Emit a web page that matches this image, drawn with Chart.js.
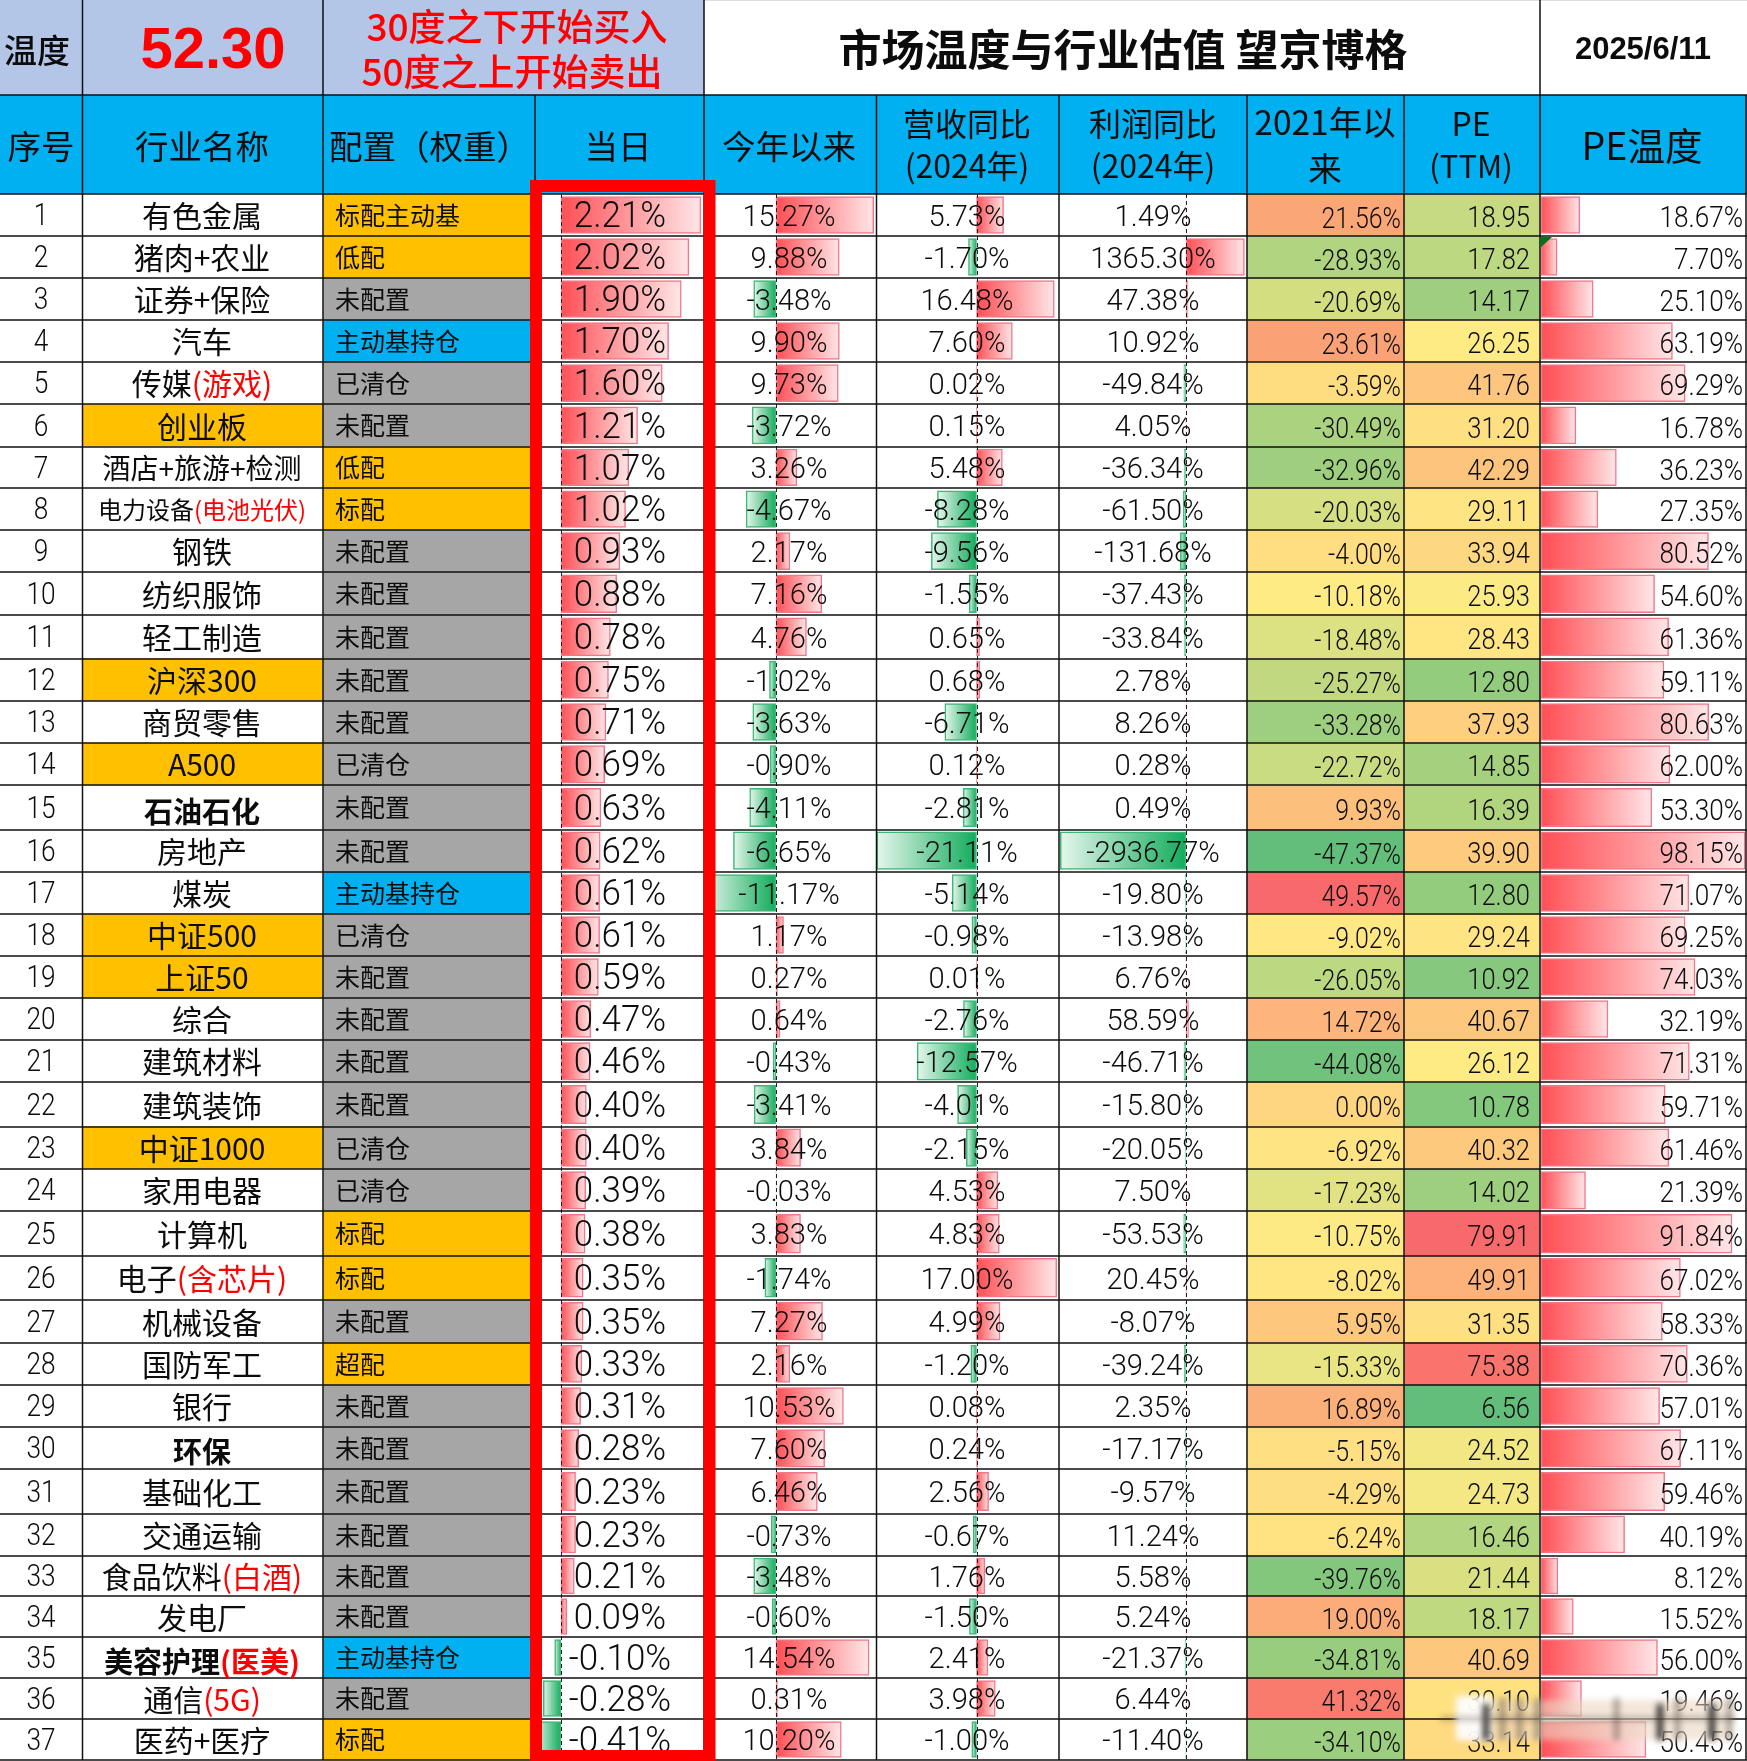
<!DOCTYPE html>
<html>
<head>
<meta charset="utf-8">
<title>市场温度与行业估值</title>
<script src="https://cdn.jsdelivr.net/npm/chart.js@4"></script>
<style>
  html, body { margin: 0; padding: 0; background: #fff; }
  canvas { display: block; }
</style>
</head>
<body>
<canvas id="myChart" width="1747" height="1761"></canvas>
<script>
// datos
var industries = ["有色金属","猪肉+农业","证券+保险","汽车","传媒","创业板","酒店+旅游+检测","电力设备","钢铁","纺织服饰","轻工制造","沪深300","商贸零售","A500","石油石化","房地产","煤炭","中证500","上证50","综合","建筑材料","建筑装饰","中证1000","家用电器","计算机","电子","机械设备","国防军工","银行","环保","基础化工","交通运输","食品饮料","发电厂","美容护理","通信","医药+医疗"];
var industryNotes = ["","","","","(游戏)","","","(电池光伏)","","","","","","","","","","","","","","","","","","(含芯片)","","","","","","","(白酒)","","(医美)","(5G)",""];
var indexRows = ["创业板","沪深300","A500","中证500","上证50","中证1000"];
var boldRows = ["石油石化","环保","美容护理"];
var allocation = ["标配主动基","低配","未配置","主动基持仓","已清仓","未配置","低配","标配","未配置","未配置","未配置","未配置","未配置","已清仓","未配置","未配置","主动基持仓","已清仓","未配置","未配置","未配置","未配置","已清仓","已清仓","标配","标配","未配置","超配","未配置","未配置","未配置","未配置","未配置","未配置","主动基持仓","未配置","标配"];
var dayChange = [2.21,2.02,1.90,1.70,1.60,1.21,1.07,1.02,0.93,0.88,0.78,0.75,0.71,0.69,0.63,0.62,0.61,0.61,0.59,0.47,0.46,0.40,0.40,0.39,0.38,0.35,0.35,0.33,0.31,0.28,0.23,0.23,0.21,0.09,-0.10,-0.28,-0.41];
var ytdChange = [15.27,9.88,-3.48,9.90,9.73,-3.72,3.26,-4.67,2.17,7.16,4.76,-1.02,-3.63,-0.90,-4.11,-6.65,-11.17,1.17,0.27,0.64,-0.43,-3.41,3.84,-0.03,3.83,-1.74,7.27,2.16,10.53,7.60,6.46,-0.73,-3.48,-0.60,14.54,0.31,10.20];
var revenueYoy = [5.73,-1.70,16.48,7.60,0.02,0.15,5.48,-8.28,-9.56,-1.55,0.65,0.68,-6.71,0.12,-2.81,-21.11,-5.14,-0.98,0.01,-2.76,-12.57,-4.01,-2.15,4.53,4.83,17.00,4.99,-1.20,0.08,0.24,2.56,-0.67,1.76,-1.50,2.41,3.98,-1.00];
var profitYoy = [1.49,1365.30,47.38,10.92,-49.84,4.05,-36.34,-61.50,-131.68,-37.43,-33.84,2.78,8.26,0.28,0.49,-2936.77,-19.80,-13.98,6.76,58.59,-46.71,-15.80,-20.05,7.50,-53.53,20.45,-8.07,-39.24,2.35,-17.17,-9.57,11.24,5.58,5.24,-21.37,6.44,-11.40];
var since2021 = [21.56,-28.93,-20.69,23.61,-3.59,-30.49,-32.96,-20.03,-4.00,-10.18,-18.48,-25.27,-33.28,-22.72,9.93,-47.37,49.57,-9.02,-26.05,14.72,-44.08,0.00,-6.92,-17.23,-10.75,-8.02,5.95,-15.33,16.89,-5.15,-4.29,-6.24,-39.76,19.00,-34.81,41.32,-34.10];
var peTtm = [18.95,17.82,14.17,26.25,41.76,31.20,42.29,29.11,33.94,25.93,28.43,12.80,37.93,14.85,16.39,39.90,12.80,29.24,10.92,40.67,26.12,10.78,40.32,14.02,79.91,49.91,31.35,75.38,6.56,24.52,24.73,16.46,21.44,18.17,40.69,30.10,33.14];
var peTemp = [18.67,7.70,25.10,63.19,69.29,16.78,36.23,27.35,80.52,54.60,61.36,59.11,80.63,62.00,53.30,98.15,71.07,69.25,74.03,32.19,71.31,59.71,61.46,21.39,91.84,67.02,58.33,70.36,57.01,67.11,59.46,40.19,8.12,15.52,56.00,19.46,50.45];

// layout, en pixeles de la pagina
var W = 1747, H = 1761;
var rowEdges = [194,236,278,320,362,404,447,488,530,572,615,659,701,743,785,830,872,914,956,998,1040,1082,1127,1169,1211,1256,1300,1343,1385,1427,1469,1514,1556,1596,1637,1678,1719,1760];
var colEdges = [0,82.5,323,535,704,876.5,1059,1247,1404,1540,1746];
var fullHeightCols = [82.5,323,704,1540];
var rowMid = industries.map(function(n, i) { return (rowEdges[i] + rowEdges[i + 1]) / 2; });

var CJK = '"Noto Sans CJK SC"';
var NUM = 'Roboto, "Noto Sans"';
var RED = "#ff0000";
var INK = "#0c0c0c";

// eje x propio para cada columna: pos. del cero y pixeles por unidad
function columnScale(zeroPx, pxPerUnit) {
  return { type: "linear", axis: "x", display: false, stacked: false, min: -zeroPx / pxPerUnit, max: (W - zeroPx) / pxPerUnit };
}
var barColumns = [
  { id: "xDay", values: dayChange, zero: 561, k: 63.3 },
  { id: "xYtd", values: ytdChange, zero: 776, k: 6.4 },
  { id: "xRev", values: revenueYoy, zero: 976.5, k: 4.72 },
  { id: "xProfit", values: profitYoy, zero: 1186, k: 0.0428 },
  { id: "xTemp", values: peTemp, zero: 1541, k: 2.08 }
];

function barFill(scaleId) {
  return function(c) {
    if (!c.raw) return "#ff555a";
    var s = c.chart.scales[scaleId];
    var x0 = s.getPixelForValue(0), x1 = s.getPixelForValue(c.raw.x);
    // la primera pasada llega antes del layout
    if (!isFinite(x0) || !isFinite(x1)) return "#ff555a";
    var g = c.chart.ctx.createLinearGradient(x0, 0, x1, 0);
    g.addColorStop(0, c.raw.x < 0 ? "#12ac5c" : "#ff4f55");
    g.addColorStop(1, c.raw.x < 0 ? "#e6f6ec" : "#ffe6e7");
    return g;
  };
}
function barEdge(c) {
  if (!c.raw) return "#ff8a8e";
  return c.raw.x < 0 ? "#3db878" : "#f0788a";
}

// escala de color de 3 puntos como en Excel
function median(values) {
  var s = values.slice().sort(function(a, b) { return a - b; });
  return s[Math.floor(s.length / 2)];
}
function mix(a, b, t) {
  return "rgb(" + a.map(function(v, i) { return Math.round(v + (b[i] - v) * t); }).join(",") + ")";
}
function heatColor(values) {
  var lo = Math.min.apply(null, values), hi = Math.max.apply(null, values), mid = median(values);
  var green = [99,190,123], yellow = [255,235,132], red = [248,105,107];
  return values.map(function(v) {
    return v <= mid ? mix(green, yellow, (v - lo) / (mid - lo)) : mix(yellow, red, (v - mid) / (hi - mid));
  });
}
function allocationColor(name) {
  if (name == "未配置" || name == "已清仓") return "#a6a6a6";
  if (name == "主动基持仓") return "#00b0f0";
  return "#ffc000";
}

// todas las barras en la misma pila para que no se agrupen a lo alto de la fila
function cellDataset(col, colors) {
  return {
    xAxisID: "xCell", stack: "row", order: 10, borderWidth: 0,
    barThickness: "flex", categoryPercentage: 1, barPercentage: 1,
    backgroundColor: colors,
    data: rowMid.map(function(y) { return { x: [colEdges[col], colEdges[col + 1]], y: y }; })
  };
}

var datasets = [
  cellDataset(1, industries.map(function(n) { return indexRows.indexOf(n) >= 0 ? "#ffc000" : "#ffffff"; })),
  cellDataset(2, allocation.map(allocationColor)),
  cellDataset(7, heatColor(since2021)),
  cellDataset(8, heatColor(peTtm))
];
var scales = {
  // offset false: si no, el eje lineal se encoge hacia el centro
  y: { type: "linear", display: false, stacked: true, offset: false, reverse: true, min: 0, max: H },
  xCell: columnScale(0, 1)
};
barColumns.forEach(function(col) {
  scales[col.id] = columnScale(col.zero, col.k);
  datasets.push({
    xAxisID: col.id, stack: "row", order: 5,
    barThickness: "flex", categoryPercentage: 0.88, barPercentage: 1,
    borderWidth: 1.5, borderSkipped: false,
    backgroundColor: barFill(col.id), borderColor: barEdge,
    data: col.values.map(function(v, i) { return { x: v, y: rowMid[i] }; })
  });
});

function put(ctx, text, x, y, font, color, align, sx) {
  ctx.save();
  ctx.font = font;
  ctx.fillStyle = color || INK;
  ctx.textAlign = align || "center";
  ctx.textBaseline = "middle";
  ctx.translate(x, y);
  ctx.scale(sx || 1, 1);
  ctx.fillText(text, 0, 0);
  ctx.restore();
}
function pct(v) { return v.toFixed(2) + "%"; }

var frame = {
  id: "frame",
  beforeDatasetsDraw: function(chart) {
    var ctx = chart.ctx;
    ctx.fillStyle = "#b4c6e7";
    ctx.fillRect(0, 0, 704, 95);
    ctx.fillStyle = "#00b0f0";
    ctx.fillRect(0, 95, W, 99);
    ctx.fillStyle = "#dddddd";
    ctx.fillRect(704, 0, W - 704, 1);
  },
  afterDatasetsDraw: function(chart) {
    var ctx = chart.ctx;
    ctx.save();

    // linea cero punteada
    ctx.strokeStyle = "#222";
    ctx.lineWidth = 1;
    ctx.setLineDash([4, 3]);
    barColumns.slice(0, 4).forEach(function(col) {
      var x = Math.round(chart.scales[col.id].getPixelForValue(0)) + 0.5;
      ctx.beginPath(); ctx.moveTo(x, 194); ctx.lineTo(x, 1760); ctx.stroke();
    });
    ctx.setLineDash([]);

    // cuadricula
    ctx.strokeStyle = "#111";
    ctx.lineWidth = 1.5;
    ctx.beginPath();
    [95].concat(rowEdges).forEach(function(y) { ctx.moveTo(0, y); ctx.lineTo(W, y); });
    colEdges.slice(1).forEach(function(x) {
      ctx.moveTo(x, fullHeightCols.indexOf(x) >= 0 ? 0 : 95);
      ctx.lineTo(x, 1760);
    });
    ctx.stroke();

    // triangulo de comentario
    ctx.fillStyle = "#0b6e1e";
    ctx.beginPath(); ctx.moveTo(1540, 237); ctx.lineTo(1552, 237); ctx.lineTo(1540, 248); ctx.fill();

    // cabecera
    put(ctx, "温度", 37, 50, "500 33px " + CJK);
    put(ctx, "52.30", 213, 52, 'bold 58px "Liberation Sans"', RED);
    put(ctx, "30度之下开始买入", 517, 27, "500 37px " + CJK, RED);
    put(ctx, "50度之上开始卖出", 512, 72, "500 37px " + CJK, RED);
    put(ctx, "市场温度与行业估值 望京博格", 1123, 50, "bold 43px " + CJK);
    put(ctx, "2025/6/11", 1643, 50, 'bold 31px "Liberation Sans"');
    var head = "33.5px " + CJK;
    var headSmall = "32px " + CJK;
    put(ctx, "序号", 41, 146, head);
    put(ctx, "行业名称", 202, 146, head);
    put(ctx, "配置（权重）", 329, 146, head, INK, "left");
    put(ctx, "当日", 618, 146, head);
    put(ctx, "今年以来", 789, 146, head);
    put(ctx, "营收同比", 967, 124, headSmall);
    put(ctx, "(2024年)", 967, 166, headSmall);
    put(ctx, "利润同比", 1153, 124, headSmall);
    put(ctx, "(2024年)", 1153, 166, headSmall);
    put(ctx, "2021年以", 1325, 122, head);
    put(ctx, "来", 1325, 168, head);
    put(ctx, "PE", 1471, 124, headSmall);
    put(ctx, "(TTM)", 1471, 166, "31px " + CJK);
    put(ctx, "PE温度", 1642, 146, "37.5px " + CJK);

    // filas
    industries.forEach(function(name, i) {
      var y = rowMid[i];
      put(ctx, String(i + 1), 41, y + 2, "300 32px " + NUM, INK, "center", 0.82);

      var size = 30, weight = "", lift = 1;
      if (name == "酒店+旅游+检测") size = 28;
      if (name == "电力设备") size = 24;
      if (boldRows.indexOf(name) >= 0) { weight = "bold "; size = 29; lift = 4; }
      var font = weight + size + "px " + CJK;
      ctx.font = font;
      var w1 = ctx.measureText(name).width, w2 = ctx.measureText(industryNotes[i]).width;
      var left = 202 - (w1 + w2) / 2;
      put(ctx, name, left, y + lift, font, INK, "left");
      if (industryNotes[i]) put(ctx, industryNotes[i], left + w1, y + lift, font, RED, "left");

      put(ctx, allocation[i], 335, y, "25px " + CJK, INK, "left");
      put(ctx, pct(dayChange[i]), 620, y + 3, "300 36px " + NUM, INK, "center", 0.97);
      put(ctx, pct(ytdChange[i]), 789, y + 3, "300 30px " + NUM, INK, "center", 0.97);
      put(ctx, pct(revenueYoy[i]), 967, y + 3, "300 30px " + NUM, INK, "center", 0.97);
      put(ctx, pct(profitYoy[i]), 1153, y + 3, "300 30px " + NUM, INK, "center", 0.97);
      put(ctx, pct(since2021[i]), 1401, y + 5, "300 30px " + NUM, INK, "right", 0.83);
      put(ctx, peTtm[i].toFixed(2), 1530, y + 5, "300 29px " + NUM, INK, "right", 0.88);
      put(ctx, pct(peTemp[i]), 1743, y + 5, "300 29px " + NUM, INK, "right", 0.9);
    });

    // recuadro rojo sobre la columna del dia
    ctx.strokeStyle = RED;
    ctx.lineWidth = 12;
    ctx.strokeRect(536, 186, 173.5, 1570);

    // marca de agua borrosa
    ctx.filter = "blur(3px)";
    ctx.fillStyle = "rgba(235,215,195,0.6)";
    ctx.fillRect(1458, 1700, 272, 40);
    ctx.fillStyle = "rgba(255,255,255,0.9)";
    ctx.fillRect(1456, 1696, 36, 44);
    ctx.fillStyle = "rgba(15,15,15,0.9)";
    [1486, 1660, 1712].forEach(function(x) { ctx.fillRect(x - 3, 1704, 6, 36); });
    ctx.fillStyle = "rgba(80,70,60,0.55)";
    [1503, 1520, 1538, 1617, 1678, 1730].forEach(function(x) { ctx.fillRect(x - 3, 1698, 5, 42); });
    ctx.fillRect(1440, 1717, 295, 3);
    ctx.restore();
  }
};

new Chart("myChart", {
  type: "bar",
  data: { labels: industries, datasets: datasets },
  options: {
    indexAxis: "y",
    responsive: false,
    animation: false,
    layout: { padding: 0 },
    scales: scales,
    plugins: { legend: { display: false }, tooltip: { enabled: false } }
  },
  plugins: [frame]
});
</script>
</body>
</html>
